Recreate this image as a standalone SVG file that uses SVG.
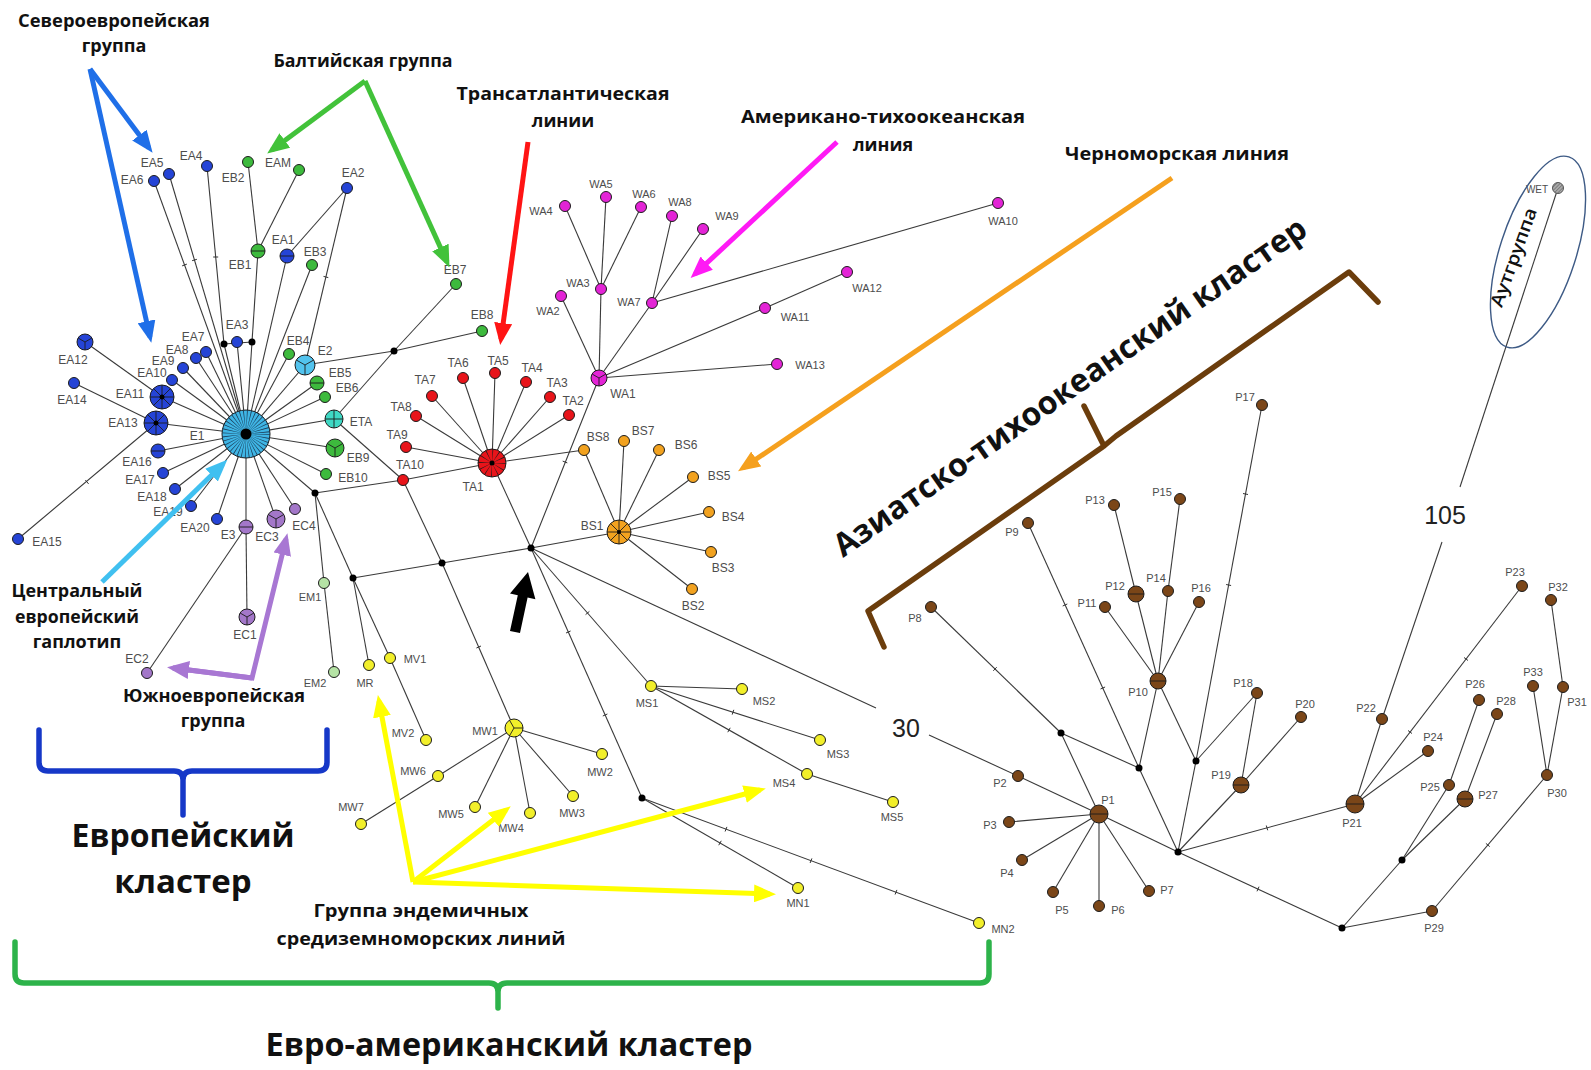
<svg xmlns="http://www.w3.org/2000/svg" xmlns:xlink="http://www.w3.org/1999/xlink" width="1591" height="1070" viewBox="0 0 1591 1070">
<style>
.e{stroke:#3a3a3a;stroke-width:1.1;fill:none}
.tk{stroke:#333;stroke-width:1;fill:none}
.n{stroke:#1c1c1c;stroke-width:1}
.d{stroke:#1c1c1c;stroke-width:0.9;fill:none}
.j{fill:#000}
.lb{font-family:"Liberation Sans",Arial,sans-serif;font-size:12px;fill:#4d4d4d;text-anchor:middle}
.ls{font-size:11px}
.t{font-family:"Open Sans","DejaVu Sans",sans-serif;font-weight:700;font-size:18px;fill:#111;text-anchor:middle}
.tb{font-size:33px}
.num{font-family:"Liberation Sans",Arial,sans-serif;font-size:25px;fill:#222;text-anchor:middle}
.blue{fill:#2544d6}.cy{fill:#3fb5e5}.cy2{fill:#52c3ee}.gr{fill:#3dba3d}.tq{fill:#3ed8c4}.pu{fill:#a377c9}.lg{fill:#b5e3a5}
.rd{fill:#e8141a}.mg{fill:#e324d6}.or{fill:#f2a21f}.ye{fill:#f2ef2a}.br{fill:#7b4618}
.ar{fill:none;stroke-width:5;stroke-linecap:butt;stroke-linejoin:miter}
.brace{fill:none;stroke-width:5.5;stroke-linecap:round;stroke-linejoin:round}
</style>
<defs>
<marker id="mB" markerUnits="userSpaceOnUse" viewBox="0 0 22 18" markerWidth="22" markerHeight="18" refX="16" refY="9" orient="auto"><path d="M0,0L22,9L0,18z" fill="#1f6fe8"/></marker>
<marker id="mG" markerUnits="userSpaceOnUse" viewBox="0 0 22 18" markerWidth="22" markerHeight="18" refX="16" refY="9" orient="auto"><path d="M0,0L22,9L0,18z" fill="#42c23a"/></marker>
<marker id="mR" markerUnits="userSpaceOnUse" viewBox="0 0 22 18" markerWidth="22" markerHeight="18" refX="16" refY="9" orient="auto"><path d="M0,0L22,9L0,18z" fill="#ff1414"/></marker>
<marker id="mM" markerUnits="userSpaceOnUse" viewBox="0 0 22 18" markerWidth="22" markerHeight="18" refX="16" refY="9" orient="auto"><path d="M0,0L22,9L0,18z" fill="#ff1af5"/></marker>
<marker id="mO" markerUnits="userSpaceOnUse" viewBox="0 0 22 18" markerWidth="22" markerHeight="18" refX="16" refY="9" orient="auto"><path d="M0,0L22,9L0,18z" fill="#f5a01e"/></marker>
<marker id="mC" markerUnits="userSpaceOnUse" viewBox="0 0 22 18" markerWidth="22" markerHeight="18" refX="16" refY="9" orient="auto"><path d="M0,0L22,9L0,18z" fill="#40c0f0"/></marker>
<marker id="mP" markerUnits="userSpaceOnUse" viewBox="0 0 22 18" markerWidth="22" markerHeight="18" refX="16" refY="9" orient="auto"><path d="M0,0L22,9L0,18z" fill="#a877d3"/></marker>
<marker id="mY" markerUnits="userSpaceOnUse" viewBox="0 0 22 18" markerWidth="22" markerHeight="18" refX="16" refY="9" orient="auto"><path d="M0,0L22,9L0,18z" fill="#ffff00"/></marker>
<path id="h7" class="d" d="M-7,0H7"/>
<path id="h8" class="d" d="M-8,0H8"/>
<path id="h9" class="d" d="M-9,0H9"/>
<path id="y8" class="d" d="M0,0V8M0,0L-6.9,-4M0,0L6.9,-4"/>
<path id="y9" class="d" d="M0,0V9M0,0L-7.8,-4.5M0,0L7.8,-4.5"/>
<path id="y10" class="d" d="M0,0V10M0,0L-8.7,-5M0,0L8.7,-5"/>
<path id="x9" class="d" d="M-9,0H9M0,-9V9"/>
<path id="s12" class="d" d="M-12,0H12M0,-12V12M-8.5,-8.5L8.5,8.5M-8.5,8.5L8.5,-8.5"/>
<pattern id="hatch" width="2.5" height="2.5" patternUnits="userSpaceOnUse" patternTransform="rotate(45)"><rect width="2.5" height="2.5" fill="#aaa"/><line x1="0" y1="0" x2="0" y2="2.5" stroke="#555" stroke-width="1"/></pattern>
</defs>
<rect width="1591" height="1070" fill="#fff"/>

<g id="connectors">
<line class="e" x1="246" y1="434" x2="154" y2="181"/>
<line class="e" x1="246" y1="434" x2="169" y2="174"/>
<line class="e" x1="246" y1="434" x2="224" y2="344"/>
<line class="e" x1="224" y1="344" x2="207" y2="166"/>
<line class="e" x1="224" y1="344" x2="252" y2="342"/>
<line class="e" x1="252" y1="342" x2="258" y2="251"/>
<line class="e" x1="252" y1="342" x2="246" y2="434"/>
<line class="e" x1="246" y1="434" x2="237" y2="342"/>
<line class="e" x1="246" y1="434" x2="287" y2="256"/>
<line class="e" x1="246" y1="434" x2="312" y2="265"/>
<line class="e" x1="246" y1="434" x2="305" y2="365"/>
<line class="e" x1="246" y1="434" x2="289" y2="354"/>
<line class="e" x1="246" y1="434" x2="317" y2="383"/>
<line class="e" x1="246" y1="434" x2="325" y2="397"/>
<line class="e" x1="246" y1="434" x2="334" y2="419"/>
<line class="e" x1="246" y1="434" x2="335" y2="448"/>
<line class="e" x1="246" y1="434" x2="326" y2="474"/>
<line class="e" x1="246" y1="434" x2="315" y2="493"/>
<line class="e" x1="246" y1="434" x2="295" y2="509"/>
<line class="e" x1="246" y1="434" x2="276" y2="519"/>
<line class="e" x1="246" y1="434" x2="246" y2="527"/>
<line class="e" x1="246" y1="434" x2="217" y2="519"/>
<line class="e" x1="246" y1="434" x2="191" y2="506"/>
<line class="e" x1="246" y1="434" x2="175" y2="489"/>
<line class="e" x1="246" y1="434" x2="163" y2="473"/>
<line class="e" x1="246" y1="434" x2="158" y2="451"/>
<line class="e" x1="246" y1="434" x2="156" y2="423"/>
<line class="e" x1="246" y1="434" x2="162" y2="397"/>
<line class="e" x1="246" y1="434" x2="172" y2="380"/>
<line class="e" x1="246" y1="434" x2="183" y2="368"/>
<line class="e" x1="246" y1="434" x2="196" y2="358"/>
<line class="e" x1="246" y1="434" x2="206" y2="352"/>
<line class="e" x1="258" y1="251" x2="248" y2="162"/>
<line class="e" x1="258" y1="251" x2="299" y2="170"/>
<line class="e" x1="287" y1="256" x2="347" y2="188"/>
<line class="e" x1="347" y1="188" x2="305" y2="365"/>
<line class="e" x1="162" y1="397" x2="85" y2="342"/>
<line class="e" x1="156" y1="423" x2="74" y2="383"/>
<line class="e" x1="156" y1="423" x2="18" y2="539"/>
<line class="e" x1="246" y1="527" x2="247" y2="617"/>
<line class="e" x1="246" y1="527" x2="147" y2="673"/>
<line class="e" x1="305" y1="365" x2="394" y2="351"/>
<line class="e" x1="394" y1="351" x2="482" y2="331"/>
<line class="e" x1="394" y1="351" x2="456" y2="284"/>
<line class="e" x1="394" y1="351" x2="334" y2="419"/>
<line class="e" x1="334" y1="419" x2="403" y2="480"/>
<line class="e" x1="315" y1="493" x2="403" y2="480"/>
<line class="e" x1="403" y1="480" x2="492" y2="463"/>
<line class="e" x1="403" y1="480" x2="442" y2="563"/>
<line class="e" x1="315" y1="493" x2="324" y2="583"/>
<line class="e" x1="324" y1="583" x2="334" y2="672"/>
<line class="e" x1="315" y1="493" x2="353" y2="578"/>
<line class="e" x1="353" y1="578" x2="369" y2="665"/>
<line class="e" x1="353" y1="578" x2="390" y2="658"/>
<line class="e" x1="390" y1="658" x2="426" y2="740"/>
<line class="e" x1="353" y1="578" x2="442" y2="563"/>
<line class="e" x1="442" y1="563" x2="531" y2="548"/>
<line class="e" x1="531" y1="548" x2="619" y2="532"/>
<line class="e" x1="442" y1="563" x2="514" y2="728"/>
<line class="e" x1="514" y1="728" x2="602" y2="754"/>
<line class="e" x1="514" y1="728" x2="573" y2="796"/>
<line class="e" x1="514" y1="728" x2="530" y2="813"/>
<line class="e" x1="514" y1="728" x2="475" y2="807"/>
<line class="e" x1="514" y1="728" x2="438" y2="776"/>
<line class="e" x1="438" y1="776" x2="361" y2="824"/>
<line class="e" x1="531" y1="548" x2="492" y2="463"/>
<line class="e" x1="531" y1="548" x2="599" y2="378"/>
<line class="e" x1="492" y1="463" x2="569" y2="415"/>
<line class="e" x1="492" y1="463" x2="550" y2="397"/>
<line class="e" x1="492" y1="463" x2="526" y2="382"/>
<line class="e" x1="492" y1="463" x2="495" y2="373"/>
<line class="e" x1="492" y1="463" x2="463" y2="378"/>
<line class="e" x1="492" y1="463" x2="432" y2="396"/>
<line class="e" x1="492" y1="463" x2="416" y2="416"/>
<line class="e" x1="492" y1="463" x2="406" y2="447"/>
<line class="e" x1="492" y1="463" x2="584" y2="450"/>
<line class="e" x1="584" y1="450" x2="619" y2="532"/>
<line class="e" x1="619" y1="532" x2="692" y2="589"/>
<line class="e" x1="619" y1="532" x2="711" y2="552"/>
<line class="e" x1="619" y1="532" x2="709" y2="512"/>
<line class="e" x1="619" y1="532" x2="693" y2="477"/>
<line class="e" x1="619" y1="532" x2="659" y2="450"/>
<line class="e" x1="619" y1="532" x2="624" y2="441"/>
<line class="e" x1="599" y1="378" x2="561" y2="296"/>
<line class="e" x1="599" y1="378" x2="601" y2="289"/>
<line class="e" x1="599" y1="378" x2="652" y2="303"/>
<line class="e" x1="599" y1="378" x2="765" y2="308"/>
<line class="e" x1="599" y1="378" x2="777" y2="364"/>
<line class="e" x1="601" y1="289" x2="565" y2="206"/>
<line class="e" x1="601" y1="289" x2="606" y2="197"/>
<line class="e" x1="601" y1="289" x2="641" y2="207"/>
<line class="e" x1="652" y1="303" x2="672" y2="216"/>
<line class="e" x1="652" y1="303" x2="703" y2="229"/>
<line class="e" x1="652" y1="303" x2="998" y2="203"/>
<line class="e" x1="765" y1="308" x2="847" y2="272"/>
<line class="e" x1="531" y1="548" x2="651" y2="686"/>
<line class="e" x1="651" y1="686" x2="742" y2="689"/>
<line class="e" x1="651" y1="686" x2="820" y2="740"/>
<line class="e" x1="651" y1="686" x2="807" y2="774"/>
<line class="e" x1="807" y1="774" x2="893" y2="802"/>
<line class="e" x1="531" y1="548" x2="642" y2="798"/>
<line class="e" x1="642" y1="798" x2="798" y2="888"/>
<line class="e" x1="642" y1="798" x2="979" y2="923"/>
<line class="e" x1="531" y1="548" x2="876" y2="708"/>
<line class="e" x1="929" y1="735" x2="1018" y2="776"/>
<line class="e" x1="1018" y1="776" x2="1099" y2="814"/>
<line class="e" x1="1099" y1="814" x2="1009" y2="822"/>
<line class="e" x1="1099" y1="814" x2="1022" y2="860"/>
<line class="e" x1="1099" y1="814" x2="1053" y2="892"/>
<line class="e" x1="1099" y1="814" x2="1099" y2="906"/>
<line class="e" x1="1099" y1="814" x2="1149" y2="891"/>
<line class="e" x1="1099" y1="814" x2="1061" y2="733"/>
<line class="e" x1="1061" y1="733" x2="931" y2="607"/>
<line class="e" x1="1061" y1="733" x2="1139" y2="768"/>
<line class="e" x1="1139" y1="768" x2="1028" y2="523"/>
<line class="e" x1="1139" y1="768" x2="1158" y2="681"/>
<line class="e" x1="1139" y1="768" x2="1178" y2="852"/>
<line class="e" x1="1099" y1="814" x2="1178" y2="852"/>
<line class="e" x1="1158" y1="681" x2="1105" y2="607"/>
<line class="e" x1="1158" y1="681" x2="1136" y2="594"/>
<line class="e" x1="1136" y1="594" x2="1114" y2="505"/>
<line class="e" x1="1158" y1="681" x2="1168" y2="591"/>
<line class="e" x1="1168" y1="591" x2="1180" y2="499"/>
<line class="e" x1="1158" y1="681" x2="1199" y2="602"/>
<line class="e" x1="1158" y1="681" x2="1196" y2="761"/>
<line class="e" x1="1196" y1="761" x2="1262" y2="405"/>
<line class="e" x1="1196" y1="761" x2="1257" y2="693"/>
<line class="e" x1="1196" y1="761" x2="1178" y2="852"/>
<line class="e" x1="1257" y1="693" x2="1241" y2="785"/>
<line class="e" x1="1241" y1="785" x2="1178" y2="852"/>
<line class="e" x1="1241" y1="785" x2="1301" y2="717"/>
<line class="e" x1="1178" y1="852" x2="1355" y2="804"/>
<line class="e" x1="1178" y1="852" x2="1342" y2="928"/>
<line class="e" x1="1355" y1="804" x2="1382" y2="719"/>
<line class="e" x1="1355" y1="804" x2="1522" y2="586"/>
<line class="e" x1="1355" y1="804" x2="1428" y2="751"/>
<line class="e" x1="1382" y1="719" x2="1442" y2="542"/>
<line class="e" x1="1460" y1="487" x2="1558" y2="188"/>
<line class="e" x1="1342" y1="928" x2="1402" y2="860"/>
<line class="e" x1="1342" y1="928" x2="1432" y2="911"/>
<line class="e" x1="1402" y1="860" x2="1449" y2="785"/>
<line class="e" x1="1402" y1="860" x2="1465" y2="799"/>
<line class="e" x1="1449" y1="785" x2="1479" y2="700"/>
<line class="e" x1="1465" y1="799" x2="1497" y2="714"/>
<line class="e" x1="1432" y1="911" x2="1547" y2="775"/>
<line class="e" x1="1547" y1="775" x2="1533" y2="686"/>
<line class="e" x1="1547" y1="775" x2="1563" y2="687"/>
<line class="e" x1="1563" y1="687" x2="1551" y2="600"/>
<path class="tk" d="M323.5,276.4L328.3,277.6M85.4,480.1L88.6,483.9M562.7,461.1L567.3,462.9M213.2,257L218.2,257M182.1,265.9L186.9,264.1M192.1,260.7L196.9,259.3M1464,657.5L1468,660.5M1408,730.5L1412,733.5M1485.9,843.4L1489.7,846.6M1243,493.5L1248,494.5M1226.1,584.5L1231.1,585.5M993.3,670.8L996.7,667.2M1062.7,606L1067.3,604M1100.5,689L1105.1,687M1266.3,825.5L1267.7,830.3M1257,891.3L1259,886.7M725.1,831.5L726.9,826.9M810.1,863L811.9,858.4M895.1,894.5L896.9,889.9M718.75,845.2L721.25,840.8M602.8,716L607.4,714M566,633L570.6,631M585.6,614.6L589.4,611.4M732.2,714.6L733.8,709.8M727.8,732.2L730.2,727.8M476.4,648L481,646"/>
</g>

<g id="junctions">
<circle class="j" cx="224" cy="344" r="3.5"/>
<circle class="j" cx="252" cy="342" r="3.5"/>
<circle class="j" cx="315" cy="493" r="3.5"/>
<circle class="j" cx="394" cy="351" r="3.5"/>
<circle class="j" cx="353" cy="578" r="3.5"/>
<circle class="j" cx="442" cy="563" r="3.5"/>
<circle class="j" cx="531" cy="548" r="3.5"/>
<circle class="j" cx="642" cy="798" r="3.5"/>
<circle class="j" cx="1061" cy="733" r="3.5"/>
<circle class="j" cx="1139" cy="768" r="3.5"/>
<circle class="j" cx="1196" cy="761" r="3.5"/>
<circle class="j" cx="1178" cy="852" r="3.5"/>
<circle class="j" cx="1342" cy="928" r="3.5"/>
<circle class="j" cx="1402" cy="860" r="3.5"/>
</g>

<g id="breaks">
<text class="num" x="906" y="737">30</text>
<text class="num" x="1445" y="524">105</text>
</g>

<g id="n-E1"><circle class="n cy" cx="246" cy="434" r="24"/><circle cx="246" cy="434" r="12" fill="none" stroke="#1a3a55" stroke-width="24" stroke-dasharray="0.45 1.65"/><circle cx="246" cy="434" r="5.5" fill="#000"/><text class="lb" x="197" y="440">E1</text></g>
<g id="n-EA1"><circle class="n blue" cx="287" cy="256" r="7"/><use href="#h7" x="287" y="256"/><text class="lb" x="283" y="244">EA1</text></g>
<g id="n-EA2"><circle class="n blue" cx="347" cy="188" r="5.5"/><text class="lb" x="353" y="177">EA2</text></g>
<g id="n-EA3"><circle class="n blue" cx="237" cy="342" r="5.5"/><text class="lb" x="237" y="329">EA3</text></g>
<g id="n-EA4"><circle class="n blue" cx="207" cy="166" r="5.5"/><text class="lb" x="191" y="160">EA4</text></g>
<g id="n-EA5"><circle class="n blue" cx="169" cy="174" r="5.5"/><text class="lb" x="152" y="167">EA5</text></g>
<g id="n-EA6"><circle class="n blue" cx="154" cy="181" r="5.5"/><text class="lb" x="132" y="184">EA6</text></g>
<g id="n-EA7"><circle class="n blue" cx="206" cy="352" r="5.5"/><text class="lb" x="193" y="341">EA7</text></g>
<g id="n-EA8"><circle class="n blue" cx="196" cy="358" r="5.5"/><text class="lb" x="177" y="354">EA8</text></g>
<g id="n-EA9"><circle class="n blue" cx="183" cy="368" r="5.5"/><text class="lb" x="163" y="365">EA9</text></g>
<g id="n-EA10"><circle class="n blue" cx="172" cy="380" r="5.5"/><text class="lb" x="152" y="377">EA10</text></g>
<g id="n-EA11"><circle class="n blue" cx="162" cy="397" r="12"/><use href="#s12" x="162" y="397"/><circle cx="162" cy="397" r="2.5" fill="#000"/><text class="lb" x="130" y="398">EA11</text></g>
<g id="n-EA12"><circle class="n blue" cx="85" cy="342" r="8"/><use href="#y8" x="85" y="342"/><text class="lb" x="73" y="364">EA12</text></g>
<g id="n-EA13"><circle class="n blue" cx="156" cy="423" r="12"/><use href="#s12" x="156" y="423"/><circle cx="156" cy="423" r="2.5" fill="#000"/><text class="lb" x="123" y="427">EA13</text></g>
<g id="n-EA14"><circle class="n blue" cx="74" cy="383" r="5.5"/><text class="lb" x="72" y="404">EA14</text></g>
<g id="n-EA15"><circle class="n blue" cx="18" cy="539" r="5.5"/><text class="lb" x="47" y="546">EA15</text></g>
<g id="n-EA16"><circle class="n blue" cx="158" cy="451" r="7"/><use href="#h7" x="158" y="451"/><text class="lb" x="137" y="466">EA16</text></g>
<g id="n-EA17"><circle class="n blue" cx="163" cy="473" r="5.5"/><text class="lb" x="140" y="484">EA17</text></g>
<g id="n-EA18"><circle class="n blue" cx="175" cy="489" r="5.5"/><text class="lb" x="152" y="501">EA18</text></g>
<g id="n-EA19"><circle class="n blue" cx="191" cy="506" r="5.5"/><text class="lb" x="168" y="516">EA19</text></g>
<g id="n-EA20"><circle class="n blue" cx="217" cy="519" r="5.5"/><text class="lb" x="195" y="532">EA20</text></g>
<g id="n-EB1"><circle class="n gr" cx="258" cy="251" r="7"/><use href="#h7" x="258" y="251"/><text class="lb" x="240" y="269">EB1</text></g>
<g id="n-EB2"><circle class="n gr" cx="248" cy="162" r="5.5"/><text class="lb" x="233" y="182">EB2</text></g>
<g id="n-EAM"><circle class="n gr" cx="299" cy="170" r="5.5"/><text class="lb" x="278" y="167">EAM</text></g>
<g id="n-EB3"><circle class="n gr" cx="312" cy="265" r="5.5"/><text class="lb" x="315" y="256">EB3</text></g>
<g id="n-EB4"><circle class="n gr" cx="289" cy="354" r="5.5"/><text class="lb" x="298" y="345">EB4</text></g>
<g id="n-E2"><circle class="n cy2" cx="305" cy="365" r="10"/><use href="#y10" x="305" y="365"/><text class="lb" x="325" y="355">E2</text></g>
<g id="n-EB5"><circle class="n gr" cx="317" cy="383" r="7"/><use href="#h7" x="317" y="383"/><text class="lb" x="340" y="377">EB5</text></g>
<g id="n-EB6"><circle class="n gr" cx="325" cy="397" r="5.5"/><text class="lb" x="347" y="392">EB6</text></g>
<g id="n-ETA"><circle class="n tq" cx="334" cy="419" r="9"/><use href="#x9" x="334" y="419"/><text class="lb" x="361" y="426">ETA</text></g>
<g id="n-EB9"><circle class="n gr" cx="335" cy="448" r="9"/><use href="#y9" x="335" y="448"/><text class="lb" x="358" y="462">EB9</text></g>
<g id="n-EB10"><circle class="n gr" cx="326" cy="474" r="5.5"/><text class="lb" x="353" y="482">EB10</text></g>
<g id="n-EB7"><circle class="n gr" cx="456" cy="284" r="5.5"/><text class="lb" x="455" y="274">EB7</text></g>
<g id="n-EB8"><circle class="n gr" cx="482" cy="331" r="5.5"/><text class="lb" x="482" y="319">EB8</text></g>
<g id="n-E3"><circle class="n pu" cx="246" cy="527" r="7"/><use href="#h7" x="246" y="527"/><text class="lb" x="228" y="539">E3</text></g>
<g id="n-EC1"><circle class="n pu" cx="247" cy="617" r="8"/><use href="#y8" x="247" y="617"/><text class="lb" x="245" y="639">EC1</text></g>
<g id="n-EC2"><circle class="n pu" cx="147" cy="673" r="5.5"/><text class="lb" x="137" y="663">EC2</text></g>
<g id="n-EC3"><circle class="n pu" cx="276" cy="519" r="9"/><use href="#y9" x="276" y="519"/><text class="lb" x="267" y="541">EC3</text></g>
<g id="n-EC4"><circle class="n pu" cx="295" cy="509" r="5.5"/><text class="lb" x="304" y="530">EC4</text></g>
<g id="n-EM1"><circle class="n lg" cx="324" cy="583" r="5.5"/><text class="lb ls" x="310" y="601">EM1</text></g>
<g id="n-EM2"><circle class="n lg" cx="334" cy="672" r="5.5"/><text class="lb ls" x="315" y="687">EM2</text></g>

<g id="n-TA1"><circle class="n rd" cx="492" cy="463" r="14"/><circle cx="492" cy="463" r="7" fill="none" stroke="#1c1c1c" stroke-width="14" stroke-dasharray="0.45 3.22"/><circle cx="492" cy="463" r="2.5" fill="#000"/><text class="lb" x="473" y="491">TA1</text></g>
<g id="n-TA2"><circle class="n rd" cx="569" cy="415" r="5.5"/><text class="lb" x="573" y="405">TA2</text></g>
<g id="n-TA3"><circle class="n rd" cx="550" cy="397" r="5.5"/><text class="lb" x="557" y="387">TA3</text></g>
<g id="n-TA4"><circle class="n rd" cx="526" cy="382" r="5.5"/><text class="lb" x="532" y="372">TA4</text></g>
<g id="n-TA5"><circle class="n rd" cx="495" cy="373" r="5.5"/><text class="lb" x="498" y="365">TA5</text></g>
<g id="n-TA6"><circle class="n rd" cx="463" cy="378" r="5.5"/><text class="lb" x="458" y="367">TA6</text></g>
<g id="n-TA7"><circle class="n rd" cx="432" cy="396" r="5.5"/><text class="lb" x="425" y="384">TA7</text></g>
<g id="n-TA8"><circle class="n rd" cx="416" cy="416" r="5.5"/><text class="lb" x="401" y="411">TA8</text></g>
<g id="n-TA9"><circle class="n rd" cx="406" cy="447" r="5.5"/><text class="lb" x="397" y="439">TA9</text></g>
<g id="n-TA10"><circle class="n rd" cx="403" cy="480" r="5.5"/><text class="lb" x="410" y="469">TA10</text></g>

<g id="n-WA1"><circle class="n mg" cx="599" cy="378" r="8"/><use href="#y8" x="599" y="378"/><text class="lb" x="623" y="398">WA1</text></g>
<g id="n-WA2"><circle class="n mg" cx="561" cy="296" r="5.5"/><text class="lb ls" x="548" y="315">WA2</text></g>
<g id="n-WA3"><circle class="n mg" cx="601" cy="289" r="5.5"/><text class="lb ls" x="578" y="287">WA3</text></g>
<g id="n-WA4"><circle class="n mg" cx="565" cy="206" r="5.5"/><text class="lb ls" x="541" y="215">WA4</text></g>
<g id="n-WA5"><circle class="n mg" cx="606" cy="197" r="5.5"/><text class="lb ls" x="601" y="188">WA5</text></g>
<g id="n-WA6"><circle class="n mg" cx="641" cy="207" r="5.5"/><text class="lb ls" x="644" y="198">WA6</text></g>
<g id="n-WA7"><circle class="n mg" cx="652" cy="303" r="5.5"/><text class="lb ls" x="629" y="306">WA7</text></g>
<g id="n-WA8"><circle class="n mg" cx="672" cy="216" r="5.5"/><text class="lb ls" x="680" y="206">WA8</text></g>
<g id="n-WA9"><circle class="n mg" cx="703" cy="229" r="5.5"/><text class="lb ls" x="727" y="220">WA9</text></g>
<g id="n-WA10"><circle class="n mg" cx="998" cy="203" r="5.5"/><text class="lb ls" x="1003" y="225">WA10</text></g>
<g id="n-WA11"><circle class="n mg" cx="765" cy="308" r="5.5"/><text class="lb ls" x="795" y="321">WA11</text></g>
<g id="n-WA12"><circle class="n mg" cx="847" cy="272" r="5.5"/><text class="lb ls" x="867" y="292">WA12</text></g>
<g id="n-WA13"><circle class="n mg" cx="777" cy="364" r="5.5"/><text class="lb ls" x="810" y="369">WA13</text></g>

<g id="n-BS1"><circle class="n or" cx="619" cy="532" r="12"/><use href="#s12" x="619" y="532"/><circle cx="619" cy="532" r="2" fill="#000"/><text class="lb" x="592" y="530">BS1</text></g>
<g id="n-BS2"><circle class="n or" cx="692" cy="589" r="5.5"/><text class="lb" x="693" y="610">BS2</text></g>
<g id="n-BS3"><circle class="n or" cx="711" cy="552" r="5.5"/><text class="lb" x="723" y="572">BS3</text></g>
<g id="n-BS4"><circle class="n or" cx="709" cy="512" r="5.5"/><text class="lb" x="733" y="521">BS4</text></g>
<g id="n-BS5"><circle class="n or" cx="693" cy="477" r="5.5"/><text class="lb" x="719" y="480">BS5</text></g>
<g id="n-BS6"><circle class="n or" cx="659" cy="450" r="5.5"/><text class="lb" x="686" y="449">BS6</text></g>
<g id="n-BS7"><circle class="n or" cx="624" cy="441" r="5.5"/><text class="lb" x="643" y="435">BS7</text></g>
<g id="n-BS8"><circle class="n or" cx="584" cy="450" r="5.5"/><text class="lb" x="598" y="441">BS8</text></g>

<g id="n-MR"><circle class="n ye" cx="369" cy="665" r="5.5"/><text class="lb ls" x="365" y="687">MR</text></g>
<g id="n-MV1"><circle class="n ye" cx="390" cy="658" r="5.5"/><text class="lb ls" x="415" y="663">MV1</text></g>
<g id="n-MV2"><circle class="n ye" cx="426" cy="740" r="5.5"/><text class="lb ls" x="403" y="737">MV2</text></g>
<g id="n-MW1"><circle class="n ye" cx="514" cy="728" r="9"/><use href="#y9" x="514" y="728" transform="rotate(-90 514 728)"/><text class="lb ls" x="485" y="735">MW1</text></g>
<g id="n-MW2"><circle class="n ye" cx="602" cy="754" r="5.5"/><text class="lb ls" x="600" y="776">MW2</text></g>
<g id="n-MW3"><circle class="n ye" cx="573" cy="796" r="5.5"/><text class="lb ls" x="572" y="817">MW3</text></g>
<g id="n-MW4"><circle class="n ye" cx="530" cy="813" r="5.5"/><text class="lb ls" x="511" y="832">MW4</text></g>
<g id="n-MW5"><circle class="n ye" cx="475" cy="807" r="5.5"/><text class="lb ls" x="451" y="818">MW5</text></g>
<g id="n-MW6"><circle class="n ye" cx="438" cy="776" r="5.5"/><text class="lb ls" x="413" y="775">MW6</text></g>
<g id="n-MW7"><circle class="n ye" cx="361" cy="824" r="5.5"/><text class="lb ls" x="351" y="811">MW7</text></g>
<g id="n-MS1"><circle class="n ye" cx="651" cy="686" r="5.5"/><text class="lb ls" x="647" y="707">MS1</text></g>
<g id="n-MS2"><circle class="n ye" cx="742" cy="689" r="5.5"/><text class="lb ls" x="764" y="705">MS2</text></g>
<g id="n-MS3"><circle class="n ye" cx="820" cy="740" r="5.5"/><text class="lb ls" x="838" y="758">MS3</text></g>
<g id="n-MS4"><circle class="n ye" cx="807" cy="774" r="5.5"/><text class="lb ls" x="784" y="787">MS4</text></g>
<g id="n-MS5"><circle class="n ye" cx="893" cy="802" r="5.5"/><text class="lb ls" x="892" y="821">MS5</text></g>
<g id="n-MN1"><circle class="n ye" cx="798" cy="888" r="5.5"/><text class="lb ls" x="798" y="907">MN1</text></g>
<g id="n-MN2"><circle class="n ye" cx="979" cy="923" r="5.5"/><text class="lb ls" x="1003" y="933">MN2</text></g>

<g id="n-P1"><circle class="n br" cx="1099" cy="814" r="9"/><use href="#h9" x="1099" y="814"/><text class="lb ls" x="1108" y="804">P1</text></g>
<g id="n-P2"><circle class="n br" cx="1018" cy="776" r="5.5"/><text class="lb ls" x="1000" y="787">P2</text></g>
<g id="n-P3"><circle class="n br" cx="1009" cy="822" r="5.5"/><text class="lb ls" x="990" y="829">P3</text></g>
<g id="n-P4"><circle class="n br" cx="1022" cy="860" r="5.5"/><text class="lb ls" x="1007" y="877">P4</text></g>
<g id="n-P5"><circle class="n br" cx="1053" cy="892" r="5.5"/><text class="lb ls" x="1062" y="914">P5</text></g>
<g id="n-P6"><circle class="n br" cx="1099" cy="906" r="5.5"/><text class="lb ls" x="1118" y="914">P6</text></g>
<g id="n-P7"><circle class="n br" cx="1149" cy="891" r="5.5"/><text class="lb ls" x="1167" y="894">P7</text></g>
<g id="n-P8"><circle class="n br" cx="931" cy="607" r="5.5"/><text class="lb ls" x="915" y="622">P8</text></g>
<g id="n-P9"><circle class="n br" cx="1028" cy="523" r="5.5"/><text class="lb ls" x="1012" y="536">P9</text></g>
<g id="n-P10"><circle class="n br" cx="1158" cy="681" r="8"/><use href="#h8" x="1158" y="681"/><text class="lb ls" x="1138" y="696">P10</text></g>
<g id="n-P11"><circle class="n br" cx="1105" cy="607" r="5.5"/><text class="lb ls" x="1087" y="607">P11</text></g>
<g id="n-P12"><circle class="n br" cx="1136" cy="594" r="8"/><use href="#h8" x="1136" y="594"/><text class="lb ls" x="1115" y="590">P12</text></g>
<g id="n-P13"><circle class="n br" cx="1114" cy="505" r="5.5"/><text class="lb ls" x="1095" y="504">P13</text></g>
<g id="n-P14"><circle class="n br" cx="1168" cy="591" r="5.5"/><text class="lb ls" x="1156" y="582">P14</text></g>
<g id="n-P15"><circle class="n br" cx="1180" cy="499" r="5.5"/><text class="lb ls" x="1162" y="496">P15</text></g>
<g id="n-P16"><circle class="n br" cx="1199" cy="602" r="5.5"/><text class="lb ls" x="1201" y="592">P16</text></g>
<g id="n-P17"><circle class="n br" cx="1262" cy="405" r="5.5"/><text class="lb ls" x="1245" y="401">P17</text></g>
<g id="n-P18"><circle class="n br" cx="1257" cy="693" r="5.5"/><text class="lb ls" x="1243" y="687">P18</text></g>
<g id="n-P19"><circle class="n br" cx="1241" cy="785" r="8"/><use href="#h8" x="1241" y="785"/><text class="lb ls" x="1221" y="779">P19</text></g>
<g id="n-P20"><circle class="n br" cx="1301" cy="717" r="5.5"/><text class="lb ls" x="1305" y="708">P20</text></g>
<g id="n-P21"><circle class="n br" cx="1355" cy="804" r="9"/><use href="#h9" x="1355" y="804"/><text class="lb ls" x="1352" y="827">P21</text></g>
<g id="n-P22"><circle class="n br" cx="1382" cy="719" r="5.5"/><text class="lb ls" x="1366" y="712">P22</text></g>
<g id="n-P23"><circle class="n br" cx="1522" cy="586" r="5.5"/><text class="lb ls" x="1515" y="576">P23</text></g>
<g id="n-P24"><circle class="n br" cx="1428" cy="751" r="5.5"/><text class="lb ls" x="1433" y="741">P24</text></g>
<g id="n-P25"><circle class="n br" cx="1449" cy="785" r="5.5"/><text class="lb ls" x="1430" y="791">P25</text></g>
<g id="n-P26"><circle class="n br" cx="1479" cy="700" r="5.5"/><text class="lb ls" x="1475" y="688">P26</text></g>
<g id="n-P27"><circle class="n br" cx="1465" cy="799" r="8"/><use href="#h8" x="1465" y="799"/><text class="lb ls" x="1488" y="799">P27</text></g>
<g id="n-P28"><circle class="n br" cx="1497" cy="714" r="5.5"/><text class="lb ls" x="1506" y="705">P28</text></g>
<g id="n-P29"><circle class="n br" cx="1432" cy="911" r="5.5"/><text class="lb ls" x="1434" y="932">P29</text></g>
<g id="n-P30"><circle class="n br" cx="1547" cy="775" r="5.5"/><text class="lb ls" x="1557" y="797">P30</text></g>
<g id="n-P31"><circle class="n br" cx="1563" cy="687" r="5.5"/><text class="lb ls" x="1577" y="706">P31</text></g>
<g id="n-P32"><circle class="n br" cx="1551" cy="600" r="5.5"/><text class="lb ls" x="1558" y="591">P32</text></g>
<g id="n-P33"><circle class="n br" cx="1533" cy="686" r="5.5"/><text class="lb ls" x="1533" y="676">P33</text></g>
<g id="n-WET"><circle cx="1558" cy="188" r="5.5" fill="url(#hatch)" stroke="#555" stroke-width="1"/><text class="lb ls" x="1537" y="193" style="font-size:10px">WET</text></g>

<g id="outgroup">
<ellipse cx="1538" cy="252" rx="38" ry="100" transform="rotate(18 1538 252)" fill="none" stroke="#3d5a85" stroke-width="1.4"/>
<text x="1513" y="257" transform="rotate(-70 1513 257)" dominant-baseline="central" style="font-family:'Open Sans',sans-serif;font-weight:600;font-size:18px;fill:#111;text-anchor:middle" textLength="104" lengthAdjust="spacingAndGlyphs">Аутгруппа</text>
</g>

<g id="arrows">
<line class="ar" stroke="#1f6fe8" x1="90" y1="69" x2="149" y2="148" marker-end="url(#mB)"/>
<line class="ar" stroke="#1f6fe8" x1="90" y1="69" x2="150" y2="337" marker-end="url(#mB)"/>
<line class="ar" stroke="#42c23a" x1="365" y1="81" x2="272" y2="150" marker-end="url(#mG)"/>
<line class="ar" stroke="#42c23a" x1="365" y1="81" x2="447" y2="262" marker-end="url(#mG)"/>
<line class="ar" stroke="#ff1414" x1="528" y1="142" x2="501" y2="339" marker-end="url(#mR)"/>
<line class="ar" stroke="#ff1af5" x1="837" y1="142" x2="695" y2="274" marker-end="url(#mM)"/>
<line class="ar" stroke="#f5a01e" stroke-width="4.5" x1="1172" y1="178" x2="743" y2="468" marker-end="url(#mO)"/>
<line class="ar" stroke="#40c0f0" x1="102" y1="582" x2="223" y2="464" marker-end="url(#mC)"/>
<polyline class="ar" stroke="#a877d3" points="173,668 252,678 286,539" marker-end="url(#mP)"/>
<line class="ar" stroke="#a877d3" x1="252" y1="678" x2="173" y2="668" marker-end="url(#mP)"/>
<line class="ar" stroke="#ffff00" x1="413" y1="882" x2="379" y2="701" marker-end="url(#mY)"/>
<line class="ar" stroke="#ffff00" x1="413" y1="882" x2="506" y2="810" marker-end="url(#mY)"/>
<line class="ar" stroke="#ffff00" x1="413" y1="882" x2="760" y2="790" marker-end="url(#mY)"/>
<line class="ar" stroke="#ffff00" x1="413" y1="882" x2="770" y2="894" marker-end="url(#mY)"/>
<polygon fill="#000" points="510,631 520,633 527.6,597.5 535.4,599.2 528,572 510,593.6 517.8,595.3"/>
</g>

<g id="braces">
<path class="brace" stroke="#1638c8" d="M39,730V762Q39,771 48,771H174Q183,771 183,780V815M327,730V762Q327,771 318,771H192Q183,771 183,780"/>
<path class="brace" stroke="#2db34a" d="M15,942V974Q15,983 24,983H489Q498,983 498,992V1008M989,942V974Q989,983 980,983H507Q498,983 498,992"/>
<path class="brace" stroke="#6b3d0c" d="M884,647L868,611L1104,446L1116,436L1349,272L1378,302M1104,446L1084,406"/>
</g>

<g id="titles">
<text class="t" x="114" y="27" textLength="192" lengthAdjust="spacingAndGlyphs">Североевропейская</text>
<text class="t" x="114" y="52">группа</text>
<text class="t" x="363" y="67" textLength="179" lengthAdjust="spacingAndGlyphs">Балтийская группа</text>
<text class="t" x="563" y="100" textLength="213" lengthAdjust="spacingAndGlyphs">Трансатлантическая</text>
<text class="t" x="563" y="127">линии</text>
<text class="t" x="883" y="123" textLength="284" lengthAdjust="spacingAndGlyphs">Американо-тихоокеанская</text>
<text class="t" x="883" y="151">линия</text>
<text class="t" x="1177" y="160" textLength="224" lengthAdjust="spacingAndGlyphs">Черноморская линия</text>
<text class="t" x="77" y="597" textLength="131" lengthAdjust="spacingAndGlyphs">Центральный</text>
<text class="t" x="77" y="623" textLength="124" lengthAdjust="spacingAndGlyphs">европейский</text>
<text class="t" x="77" y="648">гаплотип</text>
<text class="t" x="214" y="702" textLength="182" lengthAdjust="spacingAndGlyphs">Южноевропейская</text>
<text class="t" x="213" y="727">группа</text>
<text class="t" x="421" y="917" textLength="215" lengthAdjust="spacingAndGlyphs">Группа эндемичных</text>
<text class="t" x="421" y="945" textLength="289" lengthAdjust="spacingAndGlyphs">средиземноморских линий</text>
<text class="t tb" x="183" y="847" textLength="223" lengthAdjust="spacingAndGlyphs">Европейский</text>
<text class="t tb" x="183" y="893">кластер</text>
<text class="t tb" x="509" y="1056" textLength="487" lengthAdjust="spacingAndGlyphs">Евро-американский кластер</text>
<text class="t" x="843" y="558" transform="rotate(-34.8 843 558)" style="font-size:32px;text-anchor:start" textLength="568" lengthAdjust="spacingAndGlyphs">Азиатско-тихоокеанский кластер</text>
</g>
</svg>
